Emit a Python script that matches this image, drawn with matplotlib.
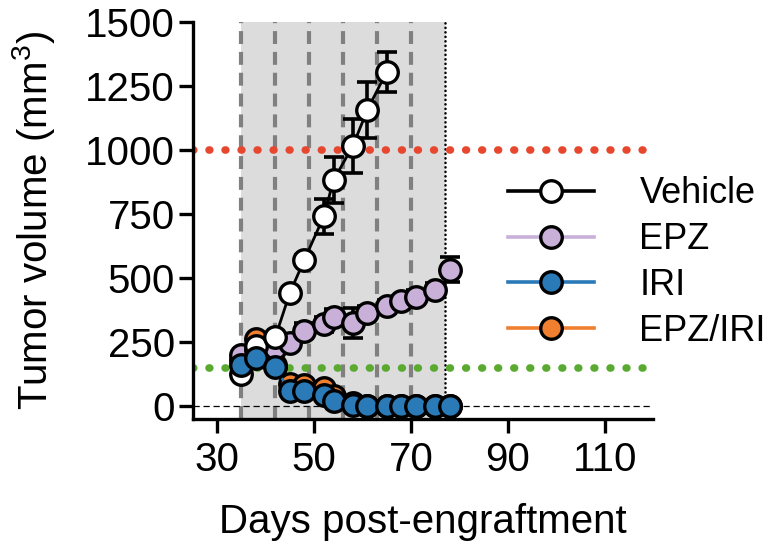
import matplotlib
matplotlib.use("Agg")
from matplotlib import pyplot as plt
from matplotlib.lines import Line2D

plt.rcParams['font.family'] = ['Liberation Sans', 'DejaVu Sans']
plt.rcParams['mathtext.default'] = 'regular'

days = [35, 38, 42, 45, 48, 52, 54, 58, 61, 65, 68, 71, 75, 78]
days_vehicle = [35, 38, 42, 45, 48, 52, 54, 58, 61, 65]

vehicle = [125, 235, 270, 443, 572, 741, 882, 1016, 1157, 1306]
vehicle_err = [20, 20, 15, 15, 20, 67, 90, 106, 110, 78]
epz = [200, 220, 227, 245, 295, 320, 350, 325, 365, 390, 410, 428, 455, 533]
epz_err = [15, 15, 15, 20, 30, 30, 30, 59, 25, 25, 20, 25, 25, 50]
iri = [160, 190, 152, 58, 60, 45, 22, 5, 2, 1, 1, 1, 1, 1]
iri_err = [10, 10, 10, 10, 10, 10, 5, 3, 1, 1, 1, 1, 1, 1]
combo = [180, 262, 160, 88, 82, 70, 40, 12, 3, 2, 2, 2, 2, 2]
combo_err = [10, 10, 10, 10, 10, 10, 5, 3, 1, 1, 1, 1, 1, 1]

treat_days = [35, 42, 49, 56, 63, 70]
end_day = 77
red_line = 1000
green_line = 150

xticks = [30, 50, 70, 90, 110]
yticks = [0, 250, 500, 750, 1000, 1250, 1500]

fig = plt.figure(figsize=(7.75, 5.45), dpi=100)
ax = fig.add_axes([0.249, 0.231, 0.594, 0.729])

ax.axvspan(treat_days[0], end_day, color='#dcdcdc', lw=0, zorder=0)
for d in treat_days:
    ax.axvline(d, color='#808080', lw=3, ls=(0, (3.1, 1.9)), zorder=1)
ax.axvline(end_day, color='black', lw=1.8, ls=(0, (0.1, 1.7)),
           dash_capstyle='round', zorder=1)
ax.plot([25, 120], [0, 0], color='black', lw=0.9, ls=(0, (5, 3)), zorder=1)
ax.plot([25, 119], [red_line, red_line], color='#e8472f', lw=5.5,
        ls=(0, (0.1, 2.0)), dash_capstyle='round', zorder=1)
ax.plot([25, 119], [green_line, green_line], color='#5aaa32', lw=5.5,
        ls=(0, (0.1, 2.0)), dash_capstyle='round', zorder=1)

series = [
    (days, combo, combo_err, '#f08030', 'EPZ/IRI', 3),
    (days, epz, epz_err, '#c8b0d8', 'EPZ', 4),
    (days_vehicle, vehicle, vehicle_err, 'white', 'Vehicle', 5),
    (days, iri, iri_err, '#2a7ab8', 'IRI', 6),
]
for x, y, e, c, name, z in series:
    lc = 'black' if c == 'white' else c
    ax.errorbar(x, y, yerr=e, fmt='none', ecolor='black', elinewidth=2.6,
                capsize=7, capthick=2.6, zorder=z)
    ax.plot(x, y, color=lc, lw=2, marker='o', ms=15.5, mfc=c,
            mec='black', mew=2.4, zorder=z + 0.5)

ax.set_xlim(25, 120)
ax.set_ylim(-50, 1500)
ax.set_xticks(xticks)
ax.set_yticks(yticks)
for s in ['top', 'right']:
    ax.spines[s].set_visible(False)
for s in ['left', 'bottom']:
    ax.spines[s].set_linewidth(2.4)
ax.tick_params(direction='out', length=10, width=2.4, labelsize=29)
ax.tick_params(axis='x', pad=6)
ax.tick_params(axis='y', pad=3)
ax.set_xlabel('Days post-engraftment', fontsize=29, labelpad=17)
ax.set_ylabel('Tumor volume (mm$^3$)', fontsize=29, labelpad=20)

handles = []
for name, c in [('Vehicle', 'white'), ('EPZ', '#c8b0d8'),
                ('IRI', '#2a7ab8'), ('EPZ/IRI', '#f08030')]:
    lc = 'black' if c == 'white' else c
    handles.append(Line2D([], [], color=lc, lw=2.6, marker='o', ms=15.5,
                          mfc=c, mec='black', mew=2.4, label=name))
fig.legend(handles=handles, loc='center left', bbox_to_anchor=(0.655, 0.518),
           frameon=False, fontsize=26, handlelength=2.4, handletextpad=1.25,
           labelspacing=0.3, borderaxespad=0, borderpad=0)

fig.savefig('out.png', dpi=100)
